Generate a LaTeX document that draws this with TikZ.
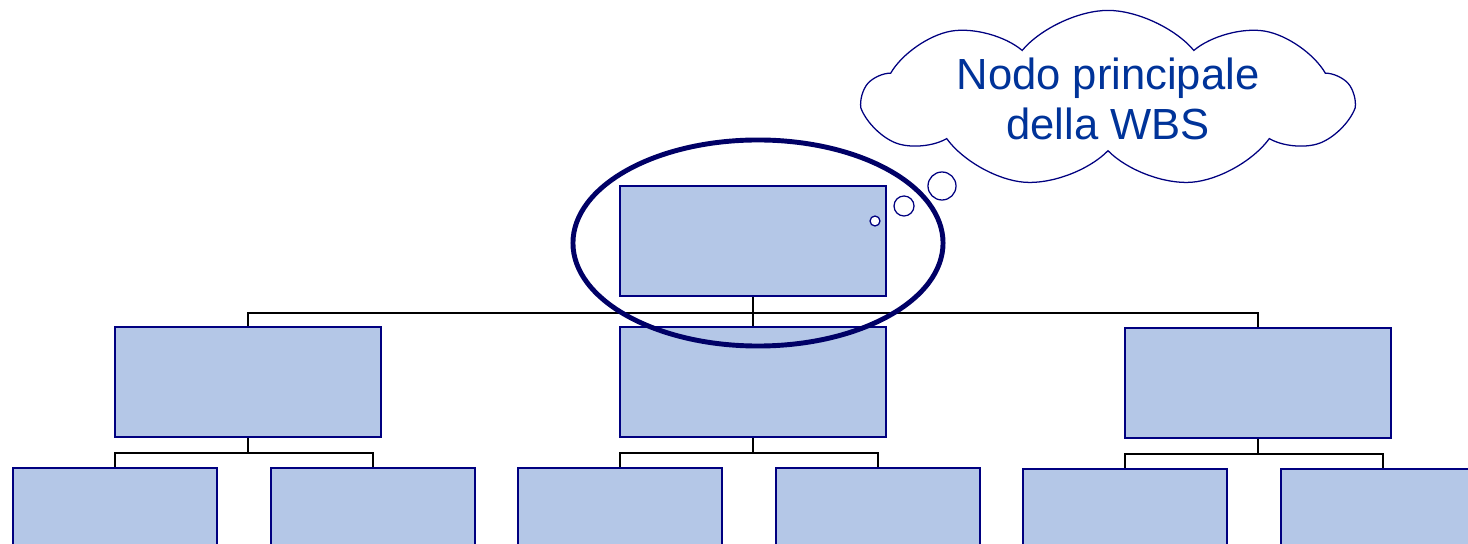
\documentclass[tikz,border=0pt]{standalone}
\usepackage{fontspec}
\setmainfont{Liberation Sans}
\usetikzlibrary{shapes.geometric, shapes.symbols, positioning}

\definecolor{wbsfill}{RGB}{180,199,231}
\definecolor{wbsline}{RGB}{0,0,128}
\definecolor{wbsring}{RGB}{0,0,102}
\definecolor{wbstext}{RGB}{0,51,153}

\begin{document}
\begin{tikzpicture}[
    x=0.025cm, y=-0.025cm,
    wbsbox/.style={rectangle, draw=wbsline, fill=wbsfill, line width=1.5pt, minimum width=6.65cm, minimum height=2.75cm, inner sep=0pt},
    wbsleaf/.style={wbsbox, minimum width=5.1cm},
    link/.style={draw=black, line width=1pt},
    thought/.style={cloud, draw=wbsline, fill=white, line width=0.9pt, cloud puffs=9, cloud puff arc=100, cloud ignores aspect, minimum width=12.2cm, minimum height=4.4cm, inner sep=0pt, align=center, text=wbstext, font=\fontsize{31}{35.5}\selectfont},
    bubble/.style={circle, draw=wbsline, fill=white, line width=0.9pt, inner sep=0pt}
]
\clip (0,0) rectangle (1468,544);

% Level 1
\node[wbsbox]  (root)  at (753, 241) {};

% Level 2
\node[wbsbox]  (left)  at (248, 382) {};
\node[wbsbox]  (mid)   at (753, 382) {};
\node[wbsbox]  (right) at (1258, 383) {};

% Level 3
\node[wbsleaf, anchor=north] (leftA)  at (115, 467) {};
\node[wbsleaf, anchor=north] (leftB)  at (373, 467) {};
\node[wbsleaf, anchor=north] (midA)   at (620, 467) {};
\node[wbsleaf, anchor=north] (midB)   at (878, 467) {};
\node[wbsleaf, anchor=north] (rightA) at (1125, 468) {};
\node[wbsleaf, anchor=north] (rightB) at (1383, 468) {};

% Edges
\draw[link] (root.south) -- ++(0,16) -| (left.north);
\draw[link] (root.south) -- ++(0,16) -| (right.north);
\draw[link] (root.south) -- (mid.north);

\draw[link] (left.south)  -- ++(0,15) -| (leftA.north);
\draw[link] (left.south)  -- ++(0,15) -| (leftB.north);
\draw[link] (mid.south)   -- ++(0,15) -| (midA.north);
\draw[link] (mid.south)   -- ++(0,15) -| (midB.north);
\draw[link] (right.south) -- ++(0,15) -| (rightA.north);
\draw[link] (right.south) -- ++(0,15) -| (rightB.north);

% Highlight and thought cloud
\node[ellipse, draw=wbsring, line width=3.5pt, minimum width=9.25cm, minimum height=5.15cm] (ring) at (758, 243) {};

\node[thought, shape border rotate=10] (note) at (1108, 99) {Nodo principale\\della WBS};
\node[bubble, minimum size=0.7cm]  (b1) at (942, 186) {};
\node[bubble, minimum size=0.5cm]  (b2) at (904, 206) {};
\node[bubble, minimum size=0.25cm] (b3) at (875, 221) {};

\end{tikzpicture}
\end{document}
